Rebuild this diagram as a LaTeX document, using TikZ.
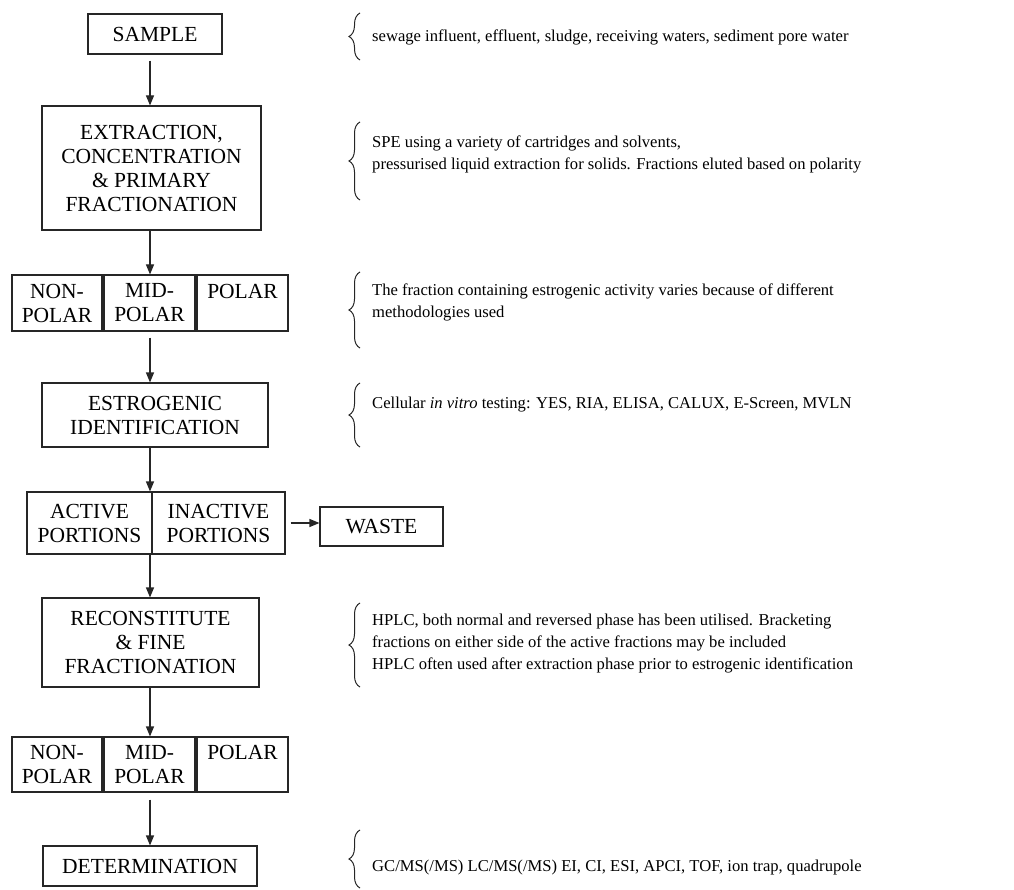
\documentclass[tikz,border=0pt]{standalone}
\usepackage{fontspec}
\setmainfont{Liberation Serif}
\usetikzlibrary{arrows.meta,decorations.pathreplacing}
\begin{document}
\begin{tikzpicture}[x=1pt,y=-1pt,
 box/.style={draw=black!85,line width=1.1pt,inner sep=0pt,align=center,font=\fontsize{21.5}{24}\selectfont},
 note/.style={anchor=west,align=left,inner sep=0pt,font=\fontsize{16.6}{22}\selectfont},
 arr/.style={draw=black!85,line width=1.1pt,-{Triangle[length=10pt,width=8pt]}},
 brc/.style={draw=black!85,line width=1pt,decorate,decoration={brace,amplitude=11pt}}]
\useasboundingbox (0,0) rectangle (1014,890);
\coordinate (ax) at (150,0);
% main column
\node[box,minimum width=134pt,minimum height=40pt] (sample) at (155,34) {SAMPLE};
\node[box,minimum width=219pt,minimum height=124pt] (extr) at (151.5,168) {EXTRACTION,\\CONCENTRATION\\\& PRIMARY\\FRACTIONATION};
\node[box,minimum width=90pt,minimum height=56pt] (r1a) at (57,303) {NON-\\POLAR};
\node[box,minimum width=91pt,minimum height=56pt] (r1b) at (149.5,303) {MID-\\POLAR};
\node[box,minimum width=91pt,minimum height=56pt] (r1c) at (242.5,303) {POLAR\\~};
\node[box,minimum width=226pt,minimum height=64pt] (estro) at (155,415) {ESTROGENIC\\IDENTIFICATION};
\node[box,minimum width=125pt,minimum height=62pt] (act) at (89.5,523) {ACTIVE\\PORTIONS};
\node[box,minimum width=133pt,minimum height=62pt] (inact) at (218.5,523) {INACTIVE\\PORTIONS};
\node[box,minimum width=123pt,minimum height=39pt] (waste) at (381.5,526.5) {WASTE};
\node[box,minimum width=217pt,minimum height=89pt] (recon) at (150.5,642.5) {RECONSTITUTE\\\& FINE\\FRACTIONATION};
\node[box,minimum width=90pt,minimum height=55pt] (r2a) at (57,764.5) {NON-\\POLAR};
\node[box,minimum width=91pt,minimum height=55pt] (r2b) at (149.5,764.5) {MID-\\POLAR};
\node[box,minimum width=91pt,minimum height=55pt] (r2c) at (242.5,764.5) {POLAR\\~};
\node[box,minimum width=214pt,minimum height=40pt] (det) at (150,866) {DETERMINATION};
% arrows
\draw[arr] ([yshift=-6pt]sample.south -| ax) -- (extr.north -| ax);
\draw[arr] (extr.south -| ax) -- (r1b.north -| ax);
\draw[arr] ([yshift=-6pt]r1b.south -| ax) -- (estro.north -| ax);
\draw[arr] (estro.south -| ax) -- (act.north -| ax);
\draw[arr] (act.south -| ax) -- (recon.north -| ax);
\draw[arr] ([xshift=5pt]inact.east) -- (inact.east -| waste.west);
\draw[arr] (recon.south -| ax) -- (r2b.north -| ax);
\draw[arr] ([yshift=-7pt]r2b.south -| ax) -- (det.north -| ax);
% notes
\node[note] (n1) at (372,37) {sewage influent, effluent, sludge, receiving waters, sediment pore water};
\node[note] (n2) at (372,154) {SPE using a variety of cartridges and solvents,\\pressurised liquid extraction for solids. Fractions eluted based on polarity};
\node[note] (n3) at (372,302) {The fraction containing estrogenic activity varies because of different\\methodologies used};
\node[note] (n4) at (372,405) {Cellular \textit{in vitro} testing: YES, RIA, ELISA, CALUX, E-Screen, MVLN};
\node[note] (n5) at (372,643.5) {HPLC, both normal and reversed phase has been utilised. Bracketing\\fractions on either side of the active fractions may be included\\HPLC often used after extraction phase prior to estrogenic identification};
\node[note] (n6) at (372,868) {GC/MS(/MS) LC/MS(/MS) EI, CI, ESI, APCI, TOF, ion trap, quadrupole};
% braces
\draw[brc] (360,60) -- (360,13);
\draw[brc] (360,200) -- (360,122);
\draw[brc] (360,348) -- (360,272);
\draw[brc] (360,447) -- (360,383);
\draw[brc] (360,687) -- (360,603);
\draw[brc] (360,888) -- (360,830);
\end{tikzpicture}
\end{document}
